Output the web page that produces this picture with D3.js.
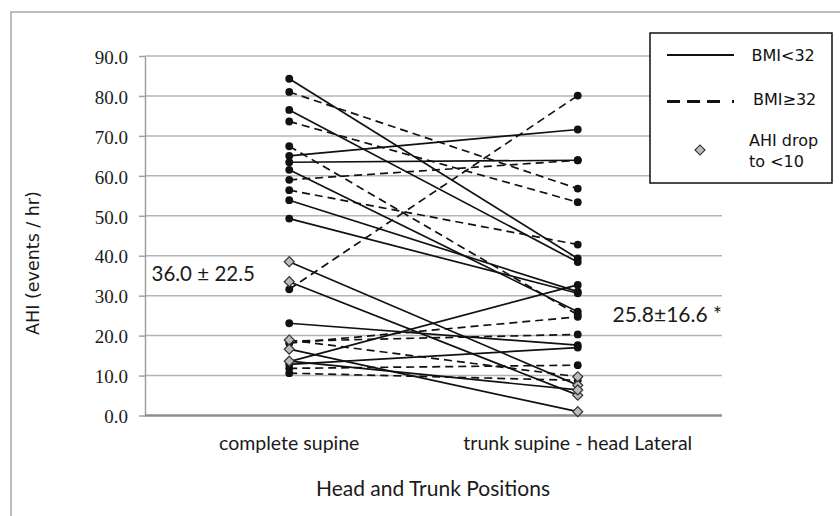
<!DOCTYPE html>
<html>
<head>
<meta charset="utf-8">
<script src="https://cdn.jsdelivr.net/npm/d3@7"></script>
<style>
  body { margin: 0; background: #fff; }
  svg { display: block; }
</style>
</head>
<body>
<svg id="chart" width="840" height="516"></svg>
<script>
// Positions compared for each subject
const categories = ["complete supine", "trunk supine - head Lateral"];
const yTicks = [0, 10, 20, 30, 40, 50, 60, 70, 80, 90];

// AHI (events / hr) per subject in each position
const supineAHI  = [84.3, 76.5, 65.0, 63.4, 61.5, 53.9, 49.3, 23.1, 13.5, 12.8,
                    81.0, 73.6, 67.4, 59.0, 56.4, 31.6, 18.1, 18.6, 11.8, 10.6,
                    38.5, 33.5, 18.9, 16.6, 13.6];
const lateralAHI = [39.3, 38.4, 71.6, 63.9, 26.0, 31.0, 30.6, 17.6, 32.7, 17.0,
                    56.8, 53.4, 25.2, 63.9, 42.8, 80.1, 24.7, 20.3, 12.6, 8.8,
                    7.6, 5.1, 9.7, 0.95, 6.4];
// BMI group: "<32" solid, "≥32" dashed
const bmiGroup   = ["<32", "<32", "<32", "<32", "<32", "<32", "<32", "<32", "<32", "<32",
                    "≥32", "≥32", "≥32", "≥32", "≥32", "≥32", "≥32", "≥32", "≥32", "≥32",
                    "<32", "<32", "≥32", "<32", "<32"];
// subjects whose AHI dropped below 10
const dropBelow10 = [false, false, false, false, false, false, false, false, false, false,
                     false, false, false, false, false, false, false, false, false, false,
                     true, true, true, true, true];

const meanLabels = ["36.0 \u00b1 22.5", "25.8\u00b116.6 *"];
const legendLabels = ["BMI<32", "BMI\u226532", "AHI drop", "to <10"];

const subjects = supineAHI.map((s, i) => ({
  supine: s, lateral: lateralAHI[i], bmi: bmiGroup[i], drop: dropBelow10[i]
}));

const svg = d3.select("#chart");
const plot = { left: 145, right: 722, top: 56, bottom: 415.5 };

const x = d3.scaleBand().domain(categories).range([plot.left, plot.right]);
const y = d3.scaleLinear().domain([0, 90]).range([plot.bottom, plot.top]);
const cx = c => x(c) + x.bandwidth() / 2;

// outer chart frame
svg.append("rect")
  .attr("x", 11).attr("y", 12).attr("width", 900).attr("height", 600)
  .attr("fill", "none").attr("stroke", "#a8a8a8").attr("stroke-width", 1.5);

// horizontal gridlines
svg.append("g").selectAll("line")
  .data(yTicks.filter(d => d > 0))
  .join("line")
  .attr("x1", plot.left).attr("x2", plot.right)
  .attr("y1", d => y(d)).attr("y2", d => y(d))
  .attr("stroke", "#b4b4b4").attr("stroke-width", 1.5);

// y axis
const yAxis = svg.append("g")
  .attr("transform", `translate(${plot.left},0)`)
  .call(d3.axisLeft(y).tickValues(yTicks).tickFormat(d3.format(".1f"))
        .tickSize(6).tickSizeOuter(0).tickPadding(11));
yAxis.select(".domain").attr("stroke", "#a0a0a0").attr("stroke-width", 1.5);
yAxis.selectAll(".tick line").attr("stroke", "#a0a0a0").attr("stroke-width", 1.5);
yAxis.selectAll(".tick text")
  .attr("font-family", "'Liberation Serif', 'Times New Roman', serif")
  .attr("font-size", 19).attr("fill", "#1a1a1a").attr("dy", "0.38em");

// x axis baseline
svg.append("line")
  .attr("x1", plot.left).attr("x2", plot.right)
  .attr("y1", y(0)).attr("y2", y(0))
  .attr("stroke", "#8e8e8e").attr("stroke-width", 2.5);

// category labels
const xAxis = svg.append("g")
  .attr("transform", `translate(0,${y(0)})`)
  .call(d3.axisBottom(x).tickSize(0).tickPadding(21));
xAxis.select(".domain").remove();
xAxis.selectAll(".tick text")
  .attr("font-family", "Lato, 'Open Sans', sans-serif")
  .attr("font-size", 19.5).attr("fill", "#1a1a1a");

// axis titles
svg.append("text")
  .attr("x", 433).attr("y", 489).attr("dy", "0.35em")
  .attr("text-anchor", "middle")
  .attr("font-family", "Lato, 'Open Sans', sans-serif")
  .attr("font-size", 21).attr("fill", "#1a1a1a")
  .text("Head and Trunk Positions");

svg.append("text")
  .attr("transform", "translate(33,263) rotate(-90)")
  .attr("dy", "0.35em")
  .attr("text-anchor", "middle")
  .attr("font-family", "'DejaVu Sans', Verdana, sans-serif")
  .attr("font-size", 17.5).attr("fill", "#1a1a1a")
  .text("AHI (events / hr)");

// subject lines
const line = d3.line();
svg.append("g").selectAll("path")
  .data(subjects)
  .join("path")
  .attr("d", d => line([[cx(categories[0]), y(d.supine)], [cx(categories[1]), y(d.lateral)]]))
  .attr("fill", "none")
  .attr("stroke", "#111")
  .attr("stroke-width", 1.7)
  .attr("stroke-dasharray", d => d.bmi === "<32" ? null : "8,5");

// markers: black dots, grey diamonds for subjects dropping below 10
const points = subjects.flatMap(d => [
  { pos: categories[0], v: d.supine, drop: d.drop },
  { pos: categories[1], v: d.lateral, drop: d.drop }
]);

svg.append("g").selectAll("circle")
  .data(points.filter(p => !p.drop))
  .join("circle")
  .attr("cx", p => cx(p.pos)).attr("cy", p => y(p.v))
  .attr("r", 3.9).attr("fill", "#111");

const diamond = d3.symbol(d3.symbolSquare, 50);
svg.append("g").selectAll("path")
  .data(points.filter(p => p.drop))
  .join("path")
  .attr("d", diamond)
  .attr("transform", p => `translate(${cx(p.pos)},${y(p.v)}) rotate(45)`)
  .attr("fill", "#bcbcbc").attr("stroke", "#333").attr("stroke-width", 1.2);

// mean ± SD annotations
svg.append("text")
  .attr("x", 151.5).attr("y", 274).attr("dy", "0.35em")
  .attr("font-family", "Lato, 'Open Sans', sans-serif")
  .attr("font-size", 20.5).attr("fill", "#1a1a1a")
  .text(meanLabels[0]);
svg.append("text")
  .attr("x", 612.5).attr("y", 315).attr("dy", "0.35em")
  .attr("font-family", "Lato, 'Open Sans', sans-serif")
  .attr("font-size", 21).attr("fill", "#1a1a1a")
  .text(meanLabels[1]);

// legend
const lg = svg.append("g");
lg.append("rect")
  .attr("x", 650).attr("y", 33).attr("width", 182).attr("height", 150)
  .attr("fill", "#fff").attr("stroke", "#111").attr("stroke-width", 1.5);
lg.append("line")
  .attr("x1", 667).attr("x2", 734).attr("y1", 55).attr("y2", 55)
  .attr("stroke", "#111").attr("stroke-width", 2);
lg.append("line")
  .attr("x1", 667).attr("x2", 735).attr("y1", 101.5).attr("y2", 101.5)
  .attr("stroke", "#111").attr("stroke-width", 3)
  .attr("stroke-dasharray", "13,7,13,7,13,12,2,20");
lg.append("path")
  .attr("d", d3.symbol(d3.symbolSquare, 50))
  .attr("transform", "translate(700,150) rotate(45)")
  .attr("fill", "#bcbcbc").attr("stroke", "#333").attr("stroke-width", 1.2);

const legendText = [
  { t: legendLabels[0], x: 751.5, y: 55 },
  { t: legendLabels[1], x: 753, y: 99 },
  { t: legendLabels[2], x: 749, y: 140 },
  { t: legendLabels[3], x: 749, y: 161.5 }
];
lg.selectAll("text")
  .data(legendText)
  .join("text")
  .attr("x", d => d.x).attr("y", d => d.y).attr("dy", "0.35em")
  .attr("font-family", "'DejaVu Sans', Verdana, sans-serif")
  .attr("font-size", 16).attr("fill", "#111")
  .text(d => d.t);
</script>
</body>
</html>
